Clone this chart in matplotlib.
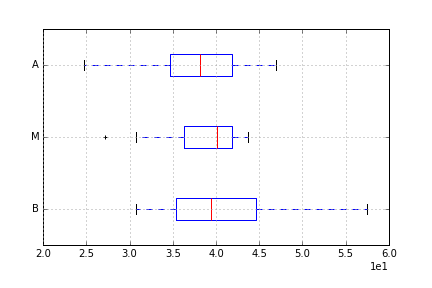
import matplotlib
matplotlib.use('Agg')
import matplotlib.pyplot as plt
from matplotlib.ticker import ScalarFormatter

plt.style.use('classic')

# groups from bottom to top
labels = ['B', 'M', 'A']
whislo = [30.7, 30.7, 24.7]
q1 = [35.4, 36.3, 34.65]
med = [39.4, 40.1, 38.15]
q3 = [44.6, 41.8, 41.9]
whishi = [57.5, 43.75, 46.9]
fliers = [[], [27.2], []]

stats = []
for i in range(len(labels)):
    stats.append({'label': labels[i], 'whislo': whislo[i], 'q1': q1[i],
                  'med': med[i], 'q3': q3[i], 'whishi': whishi[i],
                  'fliers': fliers[i]})

fig = plt.figure(figsize=(6, 4), dpi=72, facecolor='white')
ax = fig.add_axes([0.1, 0.149, 0.8, 0.75])

ax.bxp(stats, vert=False, widths=0.3, showfliers=True,
       boxprops=dict(color='b'),
       whiskerprops=dict(color='b', linestyle='--'),
       capprops=dict(color='k'),
       medianprops=dict(color='r'),
       flierprops=dict(marker='+', markeredgecolor='k', markersize=4))

ax.set_xlim(20, 60)
ax.set_ylim(0.5, 3.5)
fmt = ScalarFormatter()
fmt.set_powerlimits((0, 0))
ax.xaxis.set_major_formatter(fmt)
ax.grid(True, color='0.65', linestyle=':', linewidth=1.0)
ax.tick_params(labelsize=10)
ax.xaxis.get_offset_text().set_fontsize(10)

fig.savefig('out.png', dpi=72, facecolor='white')
